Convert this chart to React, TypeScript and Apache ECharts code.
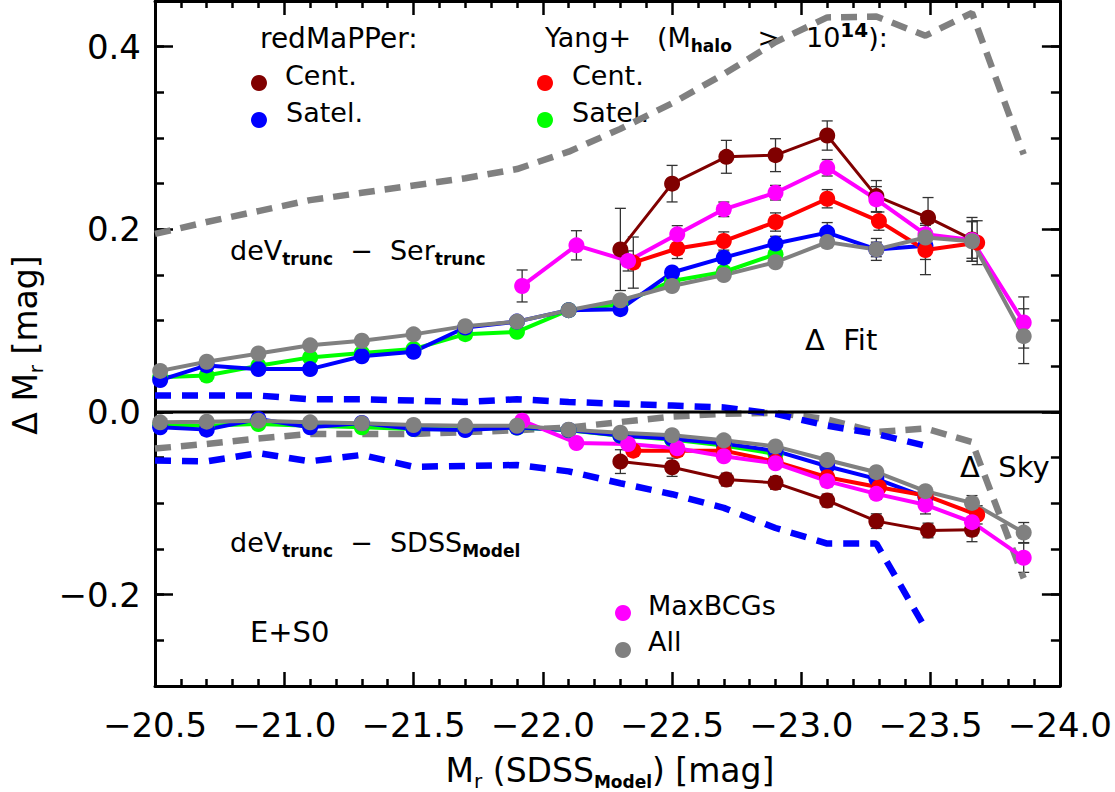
import React, { useEffect, useRef } from 'react';
import * as echarts from 'echarts';

const FONT = 'DejaVu Sans';
const MINUS = '\u2212';

// Axis ranges (x runs bright to the right)
const X_MIN = -24.0;
const X_MAX = -20.5;
const X_STEP = 0.5;
const Y_MIN = -0.3;
const Y_MAX = 0.45;
const Y_MINOR_STEP = 0.05;
const Y_MAJOR_TICKS = [-0.2, 0.0, 0.2, 0.4];

// Magnitude bins
const magAll = [-20.52, -20.7, -20.9, -21.1, -21.3, -21.5, -21.7, -21.9, -22.1, -22.3, -22.5, -22.7, -22.9, -23.1, -23.29, -23.48, -23.66, -23.86];
const magRmSat = magAll.slice(0, 16);
const magYangSat = magAll.slice(0, 13);
const magBcg = [-21.92, -22.13, -22.33, -22.52, -22.7, -22.9, -23.1, -23.29, -23.48, -23.66, -23.86];
const magRmCen = [-22.3, -22.5, -22.71, -22.9, -23.1, -23.29, -23.49, -23.66];
const magYangCen = [-22.35, -22.52, -22.7, -22.9, -23.1, -23.3, -23.48, -23.68];
const magCurve = [-20.5, -20.7, -20.9, -21.1, -21.3, -21.5, -21.7, -21.9, -22.1, -22.3, -22.5, -22.7, -22.9, -23.1, -23.29, -23.48, -23.66, -23.86];
const magCurveSky = magCurve.slice(0, 16);

// ΔFit: deV_trunc − Ser_trunc
const fitAll = [0.045, 0.055, 0.064, 0.073, 0.078, 0.085, 0.094, 0.099, 0.1115, 0.1224, 0.138, 0.15, 0.164, 0.186, 0.178, 0.191, 0.187, 0.083];
const fitAllErr = [0.003, 0.003, 0.003, 0.003, 0.003, 0.003, 0.003, 0.003, 0.003, 0.004, 0.004, 0.004, 0.005, 0.006, 0.008, 0.01, 0.022, 0.03];
const fitRmSat = [0.035, 0.051, 0.047, 0.047, 0.061, 0.066, 0.0925, 0.099, 0.1115, 0.1126, 0.1527, 0.169, 0.1844, 0.1964, 0.178, 0.182];
const fitRmSatErr = [0.004, 0.004, 0.004, 0.005, 0.005, 0.006, 0.004, 0.004, 0.004, 0.004, 0.005, 0.006, 0.008, 0.011, 0.012, 0.015];
const fitYangSat = [0.038, 0.04, 0.0506, 0.0598, 0.0645, 0.0689, 0.0852, 0.0878, 0.1115, 0.118, 0.1435, 0.1533, 0.1727];
const fitYangSatErr = [0.003, 0.006, 0.004, 0.005, 0.004, 0.004, 0.004, 0.004, 0.004, 0.004, 0.005, 0.005, 0.006];
const fitRmCen = [0.178, 0.25, 0.2794, 0.2812, 0.3027, 0.2364, 0.2128, 0.189];
const fitRmCenErr = [0.045, 0.02, 0.018, 0.018, 0.016, 0.017, 0.022, 0.024];
const fitYangCen = [0.1636, 0.179, 0.1872, 0.208, 0.2335, 0.209, 0.1774, 0.1854];
const fitYangCenErr = [0.028, 0.011, 0.01, 0.01, 0.01, 0.01, 0.027, 0.024];
const fitBcg = [0.138, 0.1825, 0.1654, 0.1945, 0.2219, 0.2401, 0.2674, 0.2328, 0.1945, 0.1883, 0.098];
const fitBcgErr = [0.0175, 0.016, 0.011, 0.0095, 0.008, 0.008, 0.009, 0.014, 0.012, 0.02, 0.028];
const fitCurve = [0.195, 0.208, 0.22, 0.232, 0.24, 0.248, 0.256, 0.266, 0.285, 0.31, 0.338, 0.37, 0.405, 0.432, 0.433, 0.412, 0.437, 0.282];

// ΔSky: deV_trunc − SDSS_Model
const skyAll = [-0.0113, -0.0106, -0.0095, -0.0113, -0.0124, -0.0142, -0.015, -0.015, -0.0193, -0.0226, -0.0255, -0.031, -0.0377, -0.0525, -0.0659, -0.0867, -0.0995, -0.132];
const skyAllErr = [0.002, 0.002, 0.002, 0.002, 0.002, 0.002, 0.002, 0.002, 0.002, 0.002, 0.002, 0.002, 0.003, 0.003, 0.004, 0.005, 0.008, 0.011];
const skyRmSat = [-0.0168, -0.0193, -0.0077, -0.0168, -0.012, -0.0186, -0.0197, -0.017, -0.0197, -0.0258, -0.0292, -0.0345, -0.0426, -0.0594, -0.0732, -0.0933];
const skyRmSatErr = [0.002, 0.002, 0.002, 0.002, 0.002, 0.002, 0.002, 0.002, 0.002, 0.002, 0.002, 0.003, 0.003, 0.003, 0.004, 0.005];
const skyYangSat = [-0.0142, -0.015, -0.0131, -0.015, -0.0168, -0.0186, -0.019, -0.017, -0.02, -0.026, -0.03, -0.0368, -0.0459];
const skyYangSatErr = [0.002, 0.002, 0.002, 0.002, 0.002, 0.002, 0.002, 0.002, 0.002, 0.002, 0.003, 0.003, 0.003];
const skyRmCen = [-0.0543, -0.0605, -0.074, -0.0776, -0.0969, -0.1195, -0.1297, -0.129];
const skyRmCenErr = [0.013, 0.01, 0.007, 0.007, 0.007, 0.008, 0.008, 0.013];
const skyYangCen = [-0.0423, -0.0423, -0.0423, -0.0543, -0.0714, -0.0823, -0.0914, -0.1126];
const skyYangCenErr = [0.006, 0.006, 0.005, 0.005, 0.005, 0.005, 0.007, 0.01];
const skyBcg = [-0.0095, -0.0339, -0.035, -0.0397, -0.0485, -0.0561, -0.0757, -0.0896, -0.1016, -0.1206, -0.1596];
const skyBcgErr = [0.004, 0.004, 0.006, 0.005, 0.005, 0.005, 0.006, 0.006, 0.01, 0.015, 0.016];
const skyCurve = [-0.04, -0.035, -0.029, -0.024, -0.024, -0.024, -0.022, -0.02, -0.017, -0.011, -0.005, -0.002, -0.001, -0.008, -0.022, -0.018, -0.033, -0.182];
const skyCurveHi = [0.018, 0.018, 0.018, 0.014, 0.014, 0.0125, 0.011, 0.014, 0.011, 0.009, 0.007, 0.005, -0.002, -0.015, -0.024, -0.037];
const skyCurveLo = [-0.053, -0.054, -0.045, -0.054, -0.047, -0.06, -0.059, -0.058, -0.065, -0.078, -0.09, -0.105, -0.127, -0.144, -0.144, -0.237];

const C_BROWN = '#800000';
const C_RED = '#ff0000';
const C_BLUE = '#0000ff';
const C_GREEN = '#00ff00';
const C_MAGENTA = '#ff00ff';
const C_GRAY = '#808080';

const pts = (xs: number[], ys: number[]) => xs.map((x, i) => [x, ys[i]]);
const errPts = (xs: number[], ys: number[], es: number[]) => xs.map((x, i) => [x, ys[i], es[i]]);

const fmtNum = (v: number) => {
  const s = Math.abs(v).toFixed(1);
  return v < -1e-9 ? MINUS + s : s;
};

function dataLine(name: string, xs: number[], ys: number[], color: string, width = 4) {
  return {
    type: 'line',
    name,
    data: pts(xs, ys),
    symbol: 'circle',
    symbolSize: 16,
    showSymbol: true,
    lineStyle: { color, width },
    itemStyle: { color },
    silent: true,
    emphasis: { disabled: true },
  };
}

function dashLine(name: string, xs: number[], ys: number[], color: string, dash: number[]) {
  return {
    type: 'line',
    name,
    data: pts(xs, ys),
    symbol: 'none',
    lineStyle: { color, width: 6.5, type: dash, cap: 'butt' },
    silent: true,
    emphasis: { disabled: true },
  };
}

function errorBars(name: string, xs: number[], ys: number[], es: number[]) {
  return {
    type: 'custom',
    name,
    data: errPts(xs, ys, es),
    encode: { x: 0, y: 1 },
    silent: true,
    renderItem: (_params: any, api: any) => {
      const x = api.value(0);
      const y = api.value(1);
      const e = api.value(2);
      const hi = api.coord([x, y + e]);
      const lo = api.coord([x, y - e]);
      const cap = 5.5;
      const style = { stroke: '#333', lineWidth: 1.3, fill: null };
      return {
        type: 'group',
        children: [
          { type: 'line', shape: { x1: hi[0], y1: hi[1], x2: lo[0], y2: lo[1] }, style },
          { type: 'line', shape: { x1: hi[0] - cap, y1: hi[1], x2: hi[0] + cap, y2: hi[1] }, style },
          { type: 'line', shape: { x1: lo[0] - cap, y1: lo[1], x2: lo[0] + cap, y2: lo[1] }, style },
        ],
      };
    },
  };
}

const AXIS_LINE = { show: true, onZero: false, lineStyle: { color: '#000', width: 3 } };

function xAxisDef(position: 'bottom' | 'top', withLabels: boolean) {
  return {
    type: 'value',
    position,
    min: X_MIN,
    max: X_MAX,
    interval: X_STEP,
    inverse: true,
    axisLine: AXIS_LINE,
    axisTick: { show: true, inside: true, length: 14, lineStyle: { color: '#000', width: 2.5 } },
    minorTick: { show: true, splitNumber: 5, length: 7, lineStyle: { color: '#000', width: 2.5 } },
    axisLabel: {
      show: withLabels,
      margin: 22,
      fontFamily: FONT,
      fontSize: 34,
      color: '#000',
      formatter: (v: number) => fmtNum(v),
    },
    splitLine: { show: false },
  };
}

function yMinorDef(position: 'left' | 'right') {
  return {
    type: 'value',
    position,
    min: Y_MIN,
    max: Y_MAX,
    interval: Y_MINOR_STEP,
    axisLine: AXIS_LINE,
    axisTick: { show: true, inside: true, length: 9, lineStyle: { color: '#000', width: 2.5 } },
    axisLabel: { show: false },
    splitLine: { show: false },
  };
}

function yMajorDef(position: 'left' | 'right', withLabels: boolean) {
  return {
    type: 'value',
    position,
    min: Y_MIN,
    max: Y_MAX,
    axisLine: { show: false, onZero: false },
    axisTick: {
      show: true,
      inside: true,
      length: 18,
      customValues: Y_MAJOR_TICKS,
      lineStyle: { color: '#000', width: 2.5 },
    },
    axisLabel: {
      show: withLabels,
      customValues: Y_MAJOR_TICKS,
      margin: 14,
      fontFamily: FONT,
      fontSize: 34,
      color: '#000',
      formatter: (v: number) => fmtNum(v),
    },
    splitLine: { show: false },
  };
}

const richBase = (size: number) => ({
  n: { fontSize: size, fontFamily: FONT, fill: '#000', lineHeight: size + 8 },
  s: { fontSize: 17, fontFamily: FONT, fontWeight: 'bold', fill: '#000', verticalAlign: 'bottom', lineHeight: 14 },
  r: { fontSize: 20, fontFamily: FONT, fill: '#000', verticalAlign: 'bottom', lineHeight: 16 },
  p: { fontSize: 20, fontFamily: FONT, fontWeight: 'bold', fill: '#000', verticalAlign: 'top', lineHeight: 10 },
});

function plainText(x: number, y: number, text: string, size = 27) {
  return {
    type: 'text',
    x,
    y,
    silent: true,
    style: { text, fontSize: size, fontFamily: FONT, fill: '#000', align: 'left', verticalAlign: 'middle' },
  };
}

function richText(x: number, y: number, text: string, size = 27, align = 'left', rotation = 0) {
  return {
    type: 'text',
    x,
    y,
    rotation,
    silent: true,
    style: { text, rich: richBase(size), align, verticalAlign: 'middle' },
  };
}

function dot(cx: number, cy: number, color: string) {
  return { type: 'circle', silent: true, shape: { cx, cy, r: 8 }, style: { fill: color } };
}

export default function App() {
  const ref = useRef<HTMLDivElement>(null);

  useEffect(() => {
    if (!ref.current) return;
    const chart = echarts.init(ref.current, undefined, { renderer: 'svg' });

    const series: any[] = [
      // envelopes
      dashLine('fit curve', magCurve, fitCurve, C_GRAY, [16, 10]),
      dashLine('sky curve', magCurve, skyCurve, C_GRAY, [16, 10]),
      dashLine('sky upper', magCurveSky, skyCurveHi, C_BLUE, [16, 11]),
      dashLine('sky lower', magCurveSky, skyCurveLo, C_BLUE, [16, 11]),
      // zero line
      {
        type: 'line',
        name: 'zero',
        data: [[X_MAX, 0], [X_MIN, 0]],
        symbol: 'none',
        lineStyle: { color: '#000', width: 3 },
        silent: true,
      },
      // ΔFit
      dataLine('rm cen fit', magRmCen, fitRmCen, C_BROWN, 3),
      dataLine('yang sat fit', magYangSat, fitYangSat, C_GREEN),
      dataLine('rm sat fit', magRmSat, fitRmSat, C_BLUE),
      dataLine('yang cen fit', magYangCen, fitYangCen, C_RED),
      dataLine('bcg fit', magBcg, fitBcg, C_MAGENTA),
      dataLine('all fit', magAll, fitAll, C_GRAY),
      // ΔSky
      dataLine('rm cen sky', magRmCen, skyRmCen, C_BROWN, 3),
      dataLine('yang sat sky', magYangSat, skyYangSat, C_GREEN),
      dataLine('rm sat sky', magRmSat, skyRmSat, C_BLUE),
      dataLine('yang cen sky', magYangCen, skyYangCen, C_RED),
      dataLine('bcg sky', magBcg, skyBcg, C_MAGENTA),
      dataLine('all sky', magAll, skyAll, C_GRAY),
      // error bars
      errorBars('rm cen fit err', magRmCen, fitRmCen, fitRmCenErr),
      errorBars('yang sat fit err', magYangSat, fitYangSat, fitYangSatErr),
      errorBars('rm sat fit err', magRmSat, fitRmSat, fitRmSatErr),
      errorBars('yang cen fit err', magYangCen, fitYangCen, fitYangCenErr),
      errorBars('bcg fit err', magBcg, fitBcg, fitBcgErr),
      errorBars('all fit err', magAll, fitAll, fitAllErr),
      errorBars('rm cen sky err', magRmCen, skyRmCen, skyRmCenErr),
      errorBars('yang sat sky err', magYangSat, skyYangSat, skyYangSatErr),
      errorBars('rm sat sky err', magRmSat, skyRmSat, skyRmSatErr),
      errorBars('yang cen sky err', magYangCen, skyYangCen, skyYangCenErr),
      errorBars('bcg sky err', magBcg, skyBcg, skyBcgErr),
      errorBars('all sky err', magAll, skyAll, skyAllErr),
    ];

    const graphic: any[] = [
      plainText(260, 38, 'redMaPPer:', 28),
      dot(259, 83, C_BROWN),
      plainText(285, 75, 'Cent.'),
      dot(259, 120, C_BLUE),
      plainText(286, 112, 'Satel.'),
      richText(545, 37, '{n|Yang+   (M}{s|halo}{n|   >   10}{p|14}{n|):}'),
      dot(545, 83, C_RED),
      plainText(572, 75, 'Cent.'),
      dot(545, 120, C_GREEN),
      plainText(572, 112, 'Satel.'),
      richText(230, 250, '{n|deV}{s|trunc}{n|  ' + MINUS + '  Ser}{s|trunc}'),
      plainText(805, 340, '\u0394  Fit', 29),
      richText(230, 542, '{n|deV}{s|trunc}{n|  ' + MINUS + '  SDSS}{s|Model}'),
      plainText(960, 467, '\u0394  Sky', 29),
      plainText(250, 632, 'E+S0', 29),
      dot(623, 613, C_MAGENTA),
      plainText(648, 605, 'MaxBCGs'),
      dot(623, 650, C_GRAY),
      plainText(648, 641, 'All'),
      richText(25, 345, '{n|\u0394 M}{r|r}{n| [mag]}', 33, 'center', Math.PI / 2),
      richText(610, 770, '{n|M}{r|r}{n| (SDSS}{s|Model}{n|) [mag]}', 33, 'center'),
    ];

    chart.setOption({
      animation: false,
      backgroundColor: '#ffffff',
      grid: { left: 155, right: 51, top: 1, bottom: 106, containLabel: false },
      xAxis: [xAxisDef('bottom', true), xAxisDef('top', false)],
      yAxis: [yMinorDef('left'), yMajorDef('left', true), yMinorDef('right'), yMajorDef('right', false)],
      series: series.map((s) => ({ ...s, xAxisIndex: 0, yAxisIndex: 0 })),
      graphic,
    });

    return () => chart.dispose();
  }, []);

  return (
    <div
      ref={ref}
      style={{ position: 'absolute', left: 0, top: 0, width: 1115, height: 792, background: '#fff' }}
    />
  );
}
